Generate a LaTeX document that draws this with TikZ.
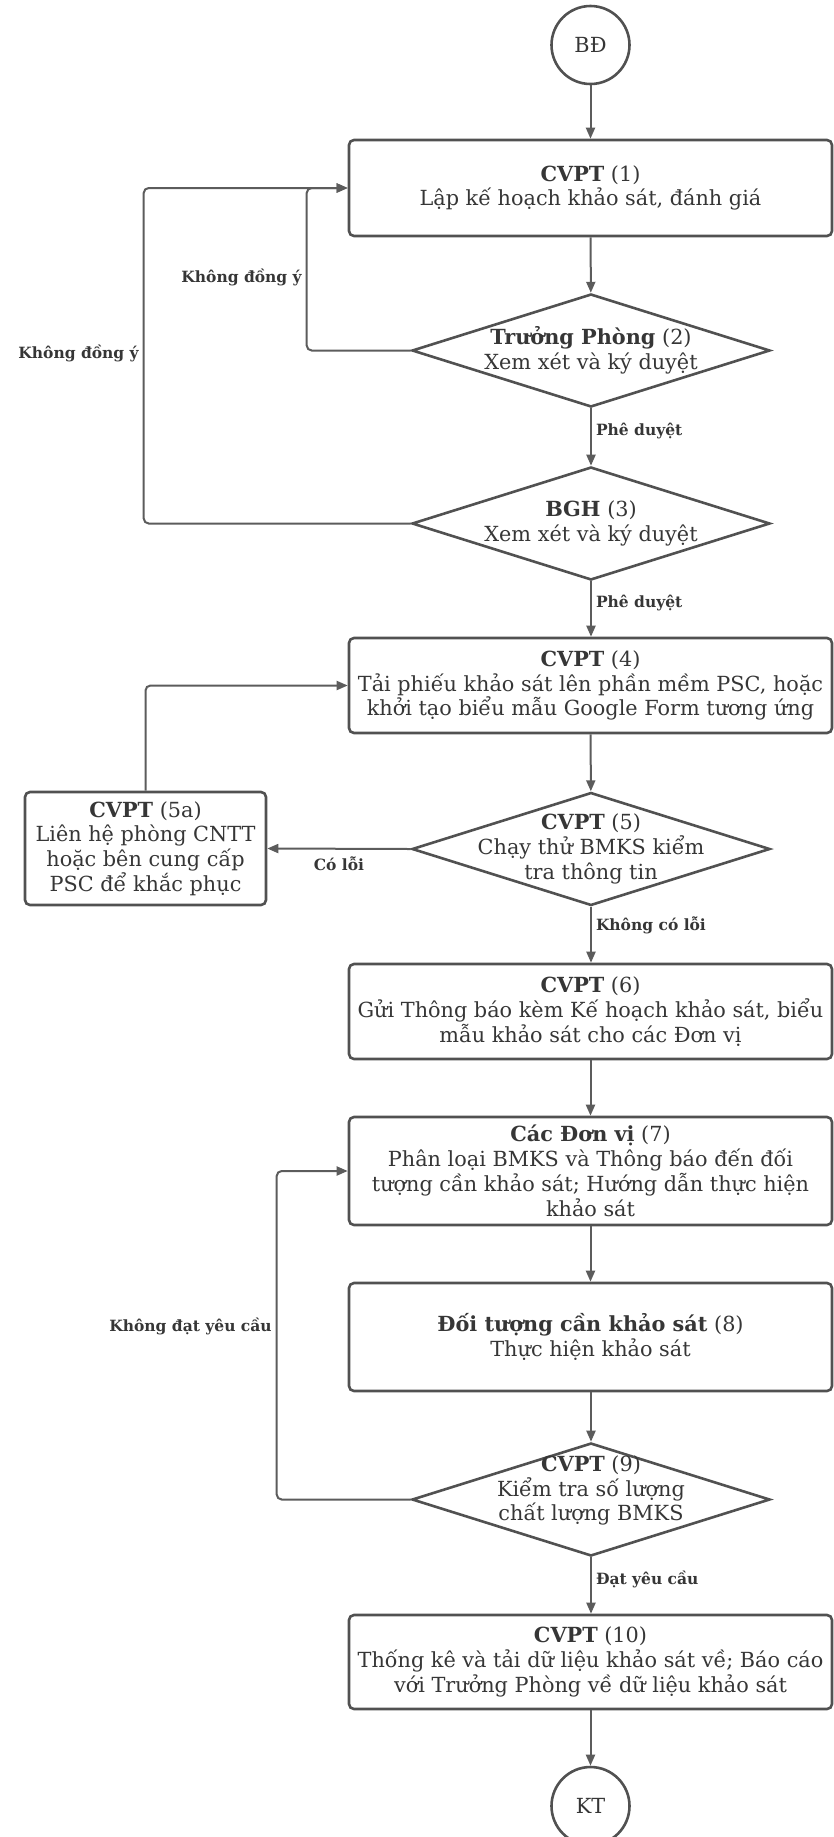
\documentclass[tikz,border=0pt]{standalone}
\usepackage{fontspec}
\setmainfont{DejaVu Serif}
\usetikzlibrary{shapes.geometric,arrows.meta}
\definecolor{linec}{HTML}{5C5C5C}
\definecolor{boxc}{HTML}{515151}
\definecolor{textc}{HTML}{363636}
\begin{document}
\begin{tikzpicture}[x=1pt,y=-1pt,
  every node/.style={text=textc},
  mainfont/.style={font=\fontsize{20.8}{24.8}\selectfont},
  box/.style={draw=boxc, line width=2.6pt, rounded corners=5pt, minimum width=483pt, align=center, inner sep=0pt, mainfont},
  dia/.style={diamond, draw=boxc, line width=2.6pt, minimum width=358pt, minimum height=113pt, inner sep=0pt, aspect=3.17},
  txt/.style={align=center, inner sep=0pt, mainfont},
  term/.style={circle, draw=boxc, line width=2.6pt, minimum size=78pt, inner sep=0pt, mainfont},
  arr/.style={draw=linec, line width=2pt, rounded corners=5pt, -{Triangle[length=11pt,width=9pt]}},
  lbl/.style={font=\bfseries\fontsize{15.5}{18}\selectfont, inner sep=4pt}]
\useasboundingbox (0,0) rectangle (834,1837);
\begin{scope}
\clip (0,0) rectangle (834,1837);
% nodes
\node[term] (bd) at (590.5,45) {BĐ};
\node[box, minimum height=96pt] (b1) at (590.5,188) {\textbf{CVPT} (1)\\Lập kế hoạch khảo sát, đánh giá};
\node[dia] (d2) at (591,350.5) {};
\node[txt] at (d2) {\textbf{Trưởng Phòng} (2)\\Xem xét và ký duyệt};
\node[dia] (d3) at (591,523.5) {};
\node[txt] at (d3) {\textbf{BGH} (3)\\Xem xét và ký duyệt};
\node[box, minimum height=95pt] (b4) at (590.5,685.5) {\textbf{CVPT} (4)\\Tải phiếu khảo sát lên phần mềm PSC, hoặc\\khởi tạo biểu mẫu Google Form tương ứng};
\node[dia] (d5) at (591,849) {};
\node[txt] at (d5) {\textbf{CVPT} (5)\\Chạy thử BMKS kiểm\\tra thông tin};
\node[box, minimum width=241pt, minimum height=113pt] (b5a) at (145.5,848.5) {\textbf{CVPT} (5a)\\Liên hệ phòng CNTT\\hoặc bên cung cấp\\PSC để khắc phục};
\node[box, minimum height=95pt] (b6) at (590.5,1011.5) {\textbf{CVPT} (6)\\Gửi Thông báo kèm Kế hoạch khảo sát, biểu\\mẫu khảo sát cho các Đơn vị};
\node[box, minimum height=108pt] (b7) at (590.5,1171) {\textbf{Các Đơn vị} (7)\\Phân loại BMKS và Thông báo đến đối\\tượng cần khảo sát; Hướng dẫn thực hiện\\khảo sát};
\node[box, minimum height=108pt] (b8) at (590.5,1337) {\textbf{Đối tượng cần khảo sát} (8)\\Thực hiện khảo sát};
\node[dia] (d9) at (591,1499.5) {};
\node[txt] at ([yshift=9pt]d9.center) {\textbf{CVPT} (9)\\Kiểm tra số lượng\\chất lượng BMKS};
\node[box, minimum height=94pt] (b10) at (590.5,1662) {\textbf{CVPT} (10)\\Thống kê và tải dữ liệu khảo sát về; Báo cáo\\với Trưởng Phòng về dữ liệu khảo sát};
\node[term] (kt) at (590.5,1806) {KT};
% connectors
\draw[arr] (bd) -- (b1);
\draw[arr] (b1) -- (d2);
\draw[arr] (d2) -- node[lbl, anchor=west, pos=0.4] {Phê duyệt} (d3);
\draw[arr] (d3) -- node[lbl, anchor=west, pos=0.4] {Phê duyệt} (b4.north -| d3);
\draw[arr] (d2.west) -- ++(-104,0) |- node[lbl, anchor=east, pos=0.225] {Không đồng ý} (b1.west);
\draw[arr] (d3.west) -- ++(-267,0) |- node[lbl, anchor=east, pos=0.254] {Không đồng ý} (b1.west);
\draw[arr] (b4) -- (d5);
\draw[arr] (d5.west) -- node[lbl, anchor=north, yshift=-3pt] {Có lỗi} (b5a.east);
\draw[arr] (b5a.north) |- (b4.west);
\draw[arr] (d5) -- node[lbl, anchor=west, pos=0.34] {Không có lỗi} (b6.north -| d5);
\draw[arr] (b6) -- (b7);
\draw[arr] (b7) -- (b8);
\draw[arr] (b8.south -| d9) -- (d9);
\draw[arr] (d9.west) -- ++(-134,0) |- node[lbl, anchor=east, pos=0.264] {Không đạt yêu cầu} (b7.west);
\draw[arr] (d9) -- node[lbl, anchor=west, pos=0.4] {Đạt yêu cầu} (b10.north -| d9);
\draw[arr] (b10) -- (kt);
\end{scope}
\end{tikzpicture}
\end{document}
